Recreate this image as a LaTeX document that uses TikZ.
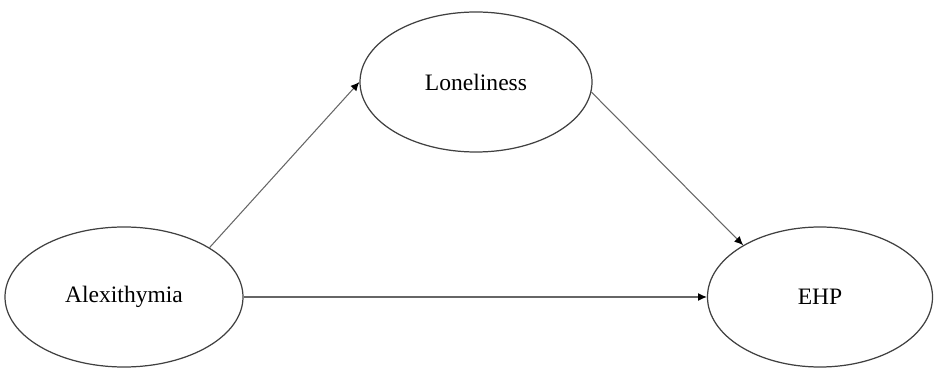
\documentclass[tikz,border=0pt]{standalone}
\usepackage{fontspec}
\setmainfont{Liberation Serif}
\usetikzlibrary{shapes.geometric,arrows.meta}

\begin{document}
\begin{tikzpicture}[>={Latex[length=5pt,width=4.5pt,color=black]},
  every node/.style={font=\fontsize{13.4}{16}\selectfont},
  var/.style={ellipse,draw=black!75,line width=0.7pt,inner sep=0pt,minimum height=2.8cm},
  link/.style={->,draw=black!60,line width=0.6pt}]
  \useasboundingbox (0,0) rectangle (18.7,7.36);
  \node[var,minimum width=4.76cm] (alex) at (2.48,1.42) {Alexithymia};
  \node[var,minimum width=4.64cm] (lone) at (9.52,5.72) {Loneliness};
  \node[var,minimum width=4.5cm] (ehp) at (16.4,1.42) {EHP};
  \path (alex.30) edge[link] (lone.west)
        (lone.355) edge[link] (ehp.146)
        (alex.east) edge[link] (ehp.west);
\end{tikzpicture}
\end{document}
